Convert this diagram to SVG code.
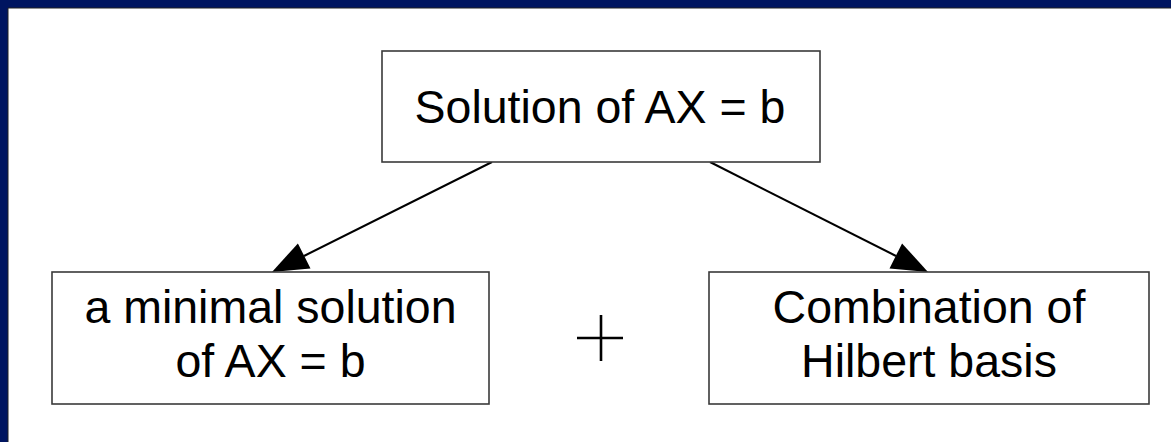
<svg xmlns="http://www.w3.org/2000/svg" width="1171" height="442" viewBox="0 0 1171 442">
<style>
.box{fill:#fff;stroke:#3a3a3a;stroke-width:1.6}
.t{font-family:"Liberation Sans",Arial,sans-serif;font-size:46.5px;fill:#000;text-anchor:middle}
.c{stroke:#000;stroke-width:2;fill:none}
</style>
<rect x="0" y="0" width="1171" height="442" fill="#fff"/>
<rect x="0" y="0" width="1171" height="8" fill="#001560"/>
<rect x="0" y="0" width="8" height="442" fill="#001560"/>
<path d="M8,442 V8 H1171" fill="none" stroke="#222" stroke-width="1"/>
<g id="connectors">
<line class="c" x1="492" y1="162" x2="304" y2="256"/>
<polygon points="272,272 297.9,243.4 310.5,268.4" fill="#000"/>
<line class="c" x1="710" y1="162" x2="896" y2="256"/>
<polygon points="928,272 889.5,268.4 902.1,243.4" fill="#000"/>
</g>
<g id="top">
<rect class="box" x="382" y="51" width="438" height="111"/>
<text class="t" x="600" y="123">Solution of AX = b</text>
</g>
<g id="left">
<rect class="box" x="52" y="272" width="437" height="132"/>
<text class="t" x="270.5" y="323">a minimal solution</text>
<text class="t" x="270.5" y="377">of AX = b</text>
</g>
<g id="plus">
<line x1="577" y1="338" x2="623" y2="338" stroke="#000" stroke-width="2.6"/>
<line x1="601" y1="315" x2="601" y2="361" stroke="#000" stroke-width="2.6"/>
</g>
<g id="right">
<rect class="box" x="709" y="272" width="440" height="132"/>
<text class="t" x="929" y="323">Combination of</text>
<text class="t" x="929" y="377">Hilbert basis</text>
</g>
</svg>
